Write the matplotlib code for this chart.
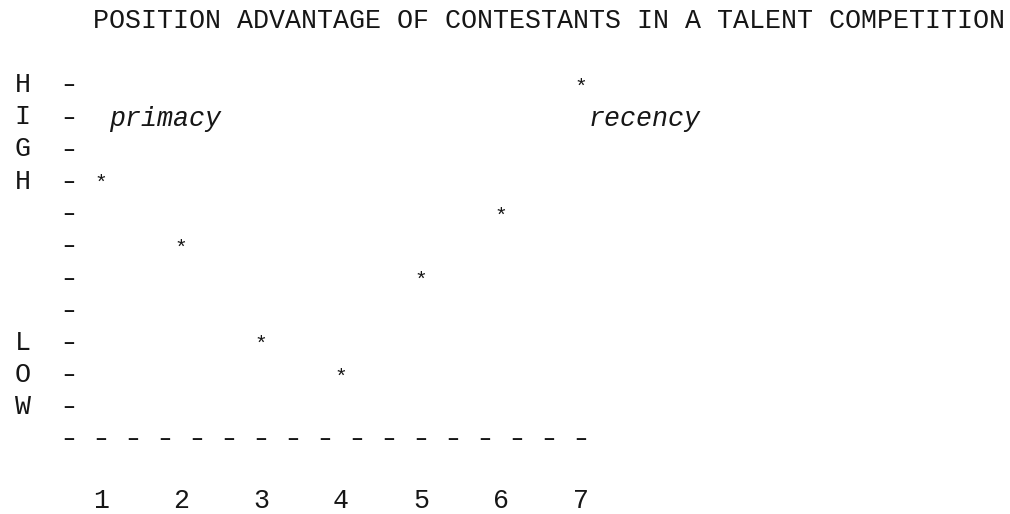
import matplotlib
matplotlib.use("Agg")
import matplotlib.pyplot as plt

# Contestant order and relative advantage (0 = baseline, 11 = highest)
positions = [1, 2, 3, 4, 5, 6, 7]
advantage = [8, 6, 3, 2, 5, 7, 11]
levels = list(range(1, 12))
axis_word_rows = {11: "H", 10: "I", 9: "G", 8: "H", 3: "L", 2: "O", 1: "W"}
title = "POSITION ADVANTAGE OF CONTESTANTS IN A TALENT COMPETITION"
primacy_label = "primacy"
recency_label = "recency"

FONT = "Liberation Mono"
SIZE = 19.2
INK = "#161616"

fig = plt.figure(figsize=(10.10, 5.14), dpi=100)
ax = fig.add_axes([0, 0, 1, 1])
# one contestant = 5 character cells, one level = one text line
ax.set_xlim(1 - 101 / 80, 1 + 909 / 80)
ax.set_ylim(-76 / 32.18, 438 / 32.18)
ax.axis("off")

col = 0.2          # width of one character cell in x units
base = -0.25       # baseline shift so capitals sit centred on a row


def put(x, y, s, ha="center", style="normal", dy=base, size=SIZE, weight="normal"):
    ax.text(x, y + dy, s, ha=ha, va="baseline", family=FONT, size=size,
            style=style, weight=weight, color=INK)


def dash(x, y):
    # short heavy tick, as drawn by a typewriter hyphen
    put(x, y, "\u2013", size=SIZE * 0.8, weight="bold", dy=-0.2)


# title
put(positions[0] - col / 2, 13, title, ha="left")

# vertical axis: word column and tick dashes
tick_x = positions[0] - 2 * col
word_x = tick_x - 3 * col + 0.02
for lv in levels:
    dash(tick_x, lv)
for lv, ch in axis_word_rows.items():
    put(word_x, lv, ch)

# horizontal axis: dashes every two cells from the tick column to the last contestant
n_dash = int(round((positions[-1] - tick_x) / (2 * col))) + 1
for k in range(n_dash):
    dash(tick_x + 2 * col * k, 0)

# contestant numbers
for p in positions:
    put(p, -2, str(p), dy=base + 0.06)

# scores
for p, a in zip(positions, advantage):
    put(p, a, "*", dy=base - 0.02, size=SIZE * 0.8)

# annotations
put(positions[0] + col / 2, 10, primacy_label, ha="left", style="italic", dy=base - 0.05)
put(positions[-1] + col / 2, 10, recency_label, ha="left", style="italic", dy=base - 0.05)

fig.savefig("out.png", dpi=100, facecolor="white")
